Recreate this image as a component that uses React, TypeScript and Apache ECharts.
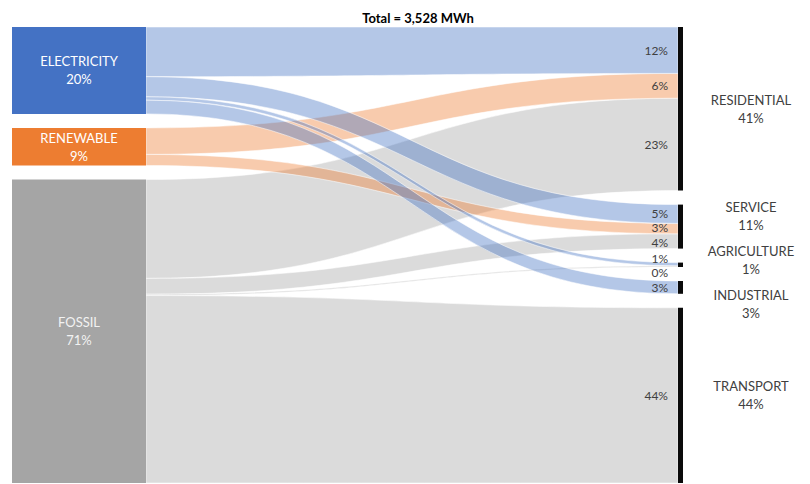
import React, { useEffect, useRef } from 'react';
import * as echarts from 'echarts';

// ---------------- data ----------------
const TOTAL_MWH = 3528;
const SOURCE_NAMES = ['ELECTRICITY', 'RENEWABLE', 'FOSSIL'];
const TARGET_NAMES = ['RESIDENTIAL', 'SERVICE', 'AGRICULTURE', 'INDUSTRIAL', 'TRANSPORT'];
// flows (share of total, %)
const LINK_SOURCE = [0, 0, 0, 0, 1, 1, 2, 2, 2, 2];
const LINK_TARGET = [0, 1, 2, 3, 0, 1, 0, 1, 2, 4];
const LINK_SHARE = [11.6, 4.7, 0.8, 3.2, 6.2, 2.6, 23.1, 3.7, 0.3, 43.8];

// ---------------- styles ----------------
const SOURCE_COLORS = ['#4472c4', '#ed7d31', '#a5a5a5'];
const SOURCE_LABEL_COLORS = ['#ffffff', '#ffffff', '#f2f2f2'];
const TEXT_COLOR = '#404040';
const TARGET_COLOR = '#0a0a0a';
const FONT = 'Lato, "Open Sans", sans-serif';

// layout constants (axis units == pixels of the plot area)
const AXIS_W = 671;
const AXIS_H = 456;
const NODE_GAP = 14;
const SOURCE_W = 134;
const TARGET_W = 5;
const LINK_X0 = SOURCE_W;
const LINK_X1 = AXIS_W - TARGET_W;
const FLOW_LABEL_PAD = 10;
const TARGET_LABEL_DX = 68;
const FLOW_LABEL_MIN_GAP = 14.4;
const TARGET_LABEL_MIN_GAP = 44;

// ---------------- layout derived from data ----------------
const sum = (a: number[]) => a.reduce((s, v) => s + v, 0);
const sourceTotals = SOURCE_NAMES.map((_, s) => sum(LINK_SHARE.filter((_, i) => LINK_SOURCE[i] === s)));
const targetTotals = TARGET_NAMES.map((_, t) => sum(LINK_SHARE.filter((_, i) => LINK_TARGET[i] === t)));

function column(values: number[]) {
  const k = (AXIS_H - (values.length - 1) * NODE_GAP) / sum(values);
  let y = 0;
  const nodes = values.map((v) => {
    const y0 = y;
    const h = v * k;
    y += h + NODE_GAP;
    return { y0, y1: y0 + h };
  });
  return { k, nodes };
}
const srcCol = column(sourceTotals);
const tgtCol = column(targetTotals);

const linkLayout = LINK_SHARE.map(() => ({ sy0: 0, sy1: 0, ty0: 0, ty1: 0 }));
SOURCE_NAMES.forEach((_, s) => {
  let y = srcCol.nodes[s].y0;
  LINK_SHARE.map((_, i) => i)
    .filter((i) => LINK_SOURCE[i] === s)
    .sort((a, b) => LINK_TARGET[a] - LINK_TARGET[b])
    .forEach((i) => {
      linkLayout[i].sy0 = y;
      y += LINK_SHARE[i] * srcCol.k;
      linkLayout[i].sy1 = y;
    });
});
TARGET_NAMES.forEach((_, t) => {
  let y = tgtCol.nodes[t].y0;
  LINK_SHARE.map((_, i) => i)
    .filter((i) => LINK_TARGET[i] === t)
    .sort((a, b) => LINK_SOURCE[a] - LINK_SOURCE[b])
    .forEach((i) => {
      linkLayout[i].ty0 = y;
      y += LINK_SHARE[i] * tgtCol.k;
      linkLayout[i].ty1 = y;
    });
});

// spread label centers so that they keep a minimum distance
function spread(desired: number[], minGap: number): number[] {
  const order = desired.map((_, i) => i).sort((a, b) => desired[a] - desired[b]);
  let clusters = order.map((i) => ({ items: [i], pos: desired[i] }));
  let changed = true;
  while (changed) {
    changed = false;
    for (let c = 0; c < clusters.length - 1; c++) {
      const a = clusters[c];
      const b = clusters[c + 1];
      const aEnd = a.pos + ((a.items.length - 1) / 2) * minGap;
      const bStart = b.pos - ((b.items.length - 1) / 2) * minGap;
      if (bStart - aEnd < minGap - 1e-6) {
        const items = a.items.concat(b.items);
        const pos = sum(items.map((k) => desired[k])) / items.length;
        clusters.splice(c, 2, { items, pos });
        changed = true;
        break;
      }
    }
  }
  const out = desired.slice();
  clusters.forEach((cl) => {
    cl.items.forEach((k, j) => {
      out[k] = cl.pos + (j - (cl.items.length - 1) / 2) * minGap;
    });
  });
  return out;
}
const flowLabelY = spread(linkLayout.map((l) => (l.ty0 + l.ty1) / 2), FLOW_LABEL_MIN_GAP);
const targetLabelY = spread(tgtCol.nodes.map((n) => (n.y0 + n.y1) / 2), TARGET_LABEL_MIN_GAP);

function hexToRgba(hex: string, a: number) {
  const n = parseInt(hex.slice(1), 16);
  return `rgba(${(n >> 16) & 255},${(n >> 8) & 255},${n & 255},${a})`;
}

// render order of links: fossil first, electricity on top
const linkOrder = LINK_SHARE.map((_, i) => i).sort((a, b) => LINK_SOURCE[b] - LINK_SOURCE[a]);

export default function App() {
  const ref = useRef<HTMLDivElement>(null);
  useEffect(() => {
    if (!ref.current) return;
    const chart = echarts.init(ref.current, null, { renderer: 'svg' });
    const option: any = {
      animation: false,
      backgroundColor: '#ffffff',
      title: {
        text: `Total = ${TOTAL_MWH.toLocaleString('en-US')} MWh`,
        left: 413,
        top: 6,
        textAlign: 'center',
        textStyle: { fontFamily: FONT, fontSize: 13, fontWeight: 'bold', color: '#000000' },
      },
      grid: { left: 12, right: 127, top: 27, bottom: 1 },
      xAxis: { type: 'value', min: 0, max: AXIS_W, show: false },
      yAxis: { type: 'value', min: 0, max: AXIS_H, inverse: true, show: false },
      series: [
        {
          type: 'custom',
          name: 'links',
          silent: true,
          data: linkOrder.map((i) => [i]),
          renderItem: (params: any, api: any) => {
            const i = linkOrder[params.dataIndex];
            const L = linkLayout[i];
            const a0 = api.coord([LINK_X0, L.sy0]);
            const a1 = api.coord([LINK_X0, L.sy1]);
            const b0 = api.coord([LINK_X1, L.ty0]);
            const b1 = api.coord([LINK_X1, L.ty1]);
            const xa = a0[0];
            const xb = b0[0];
            const xm = (xa + xb) / 2;
            const d =
              `M${xa},${a0[1]}C${xm},${a0[1]} ${xm},${b0[1]} ${xb},${b0[1]}` +
              `L${xb},${b1[1]}C${xm},${b1[1]} ${xm},${a1[1]} ${xa},${a1[1]}Z`;
            return {
              type: 'path',
              shape: { pathData: d },
              style: {
                fill: hexToRgba(SOURCE_COLORS[LINK_SOURCE[i]], 0.4),
                stroke: 'rgba(255,255,255,0.75)',
                lineWidth: 0.7,
              },
            };
          },
        },
        {
          type: 'custom',
          name: 'sources',
          silent: true,
          data: SOURCE_NAMES.map((_, s) => [s]),
          renderItem: (params: any, api: any) => {
            const s = params.dataIndex;
            const n = srcCol.nodes[s];
            const p0 = api.coord([0, n.y0]);
            const p1 = api.coord([SOURCE_W, n.y1]);
            return {
              type: 'group',
              children: [
                {
                  type: 'rect',
                  shape: { x: p0[0], y: p0[1], width: p1[0] - p0[0], height: p1[1] - p0[1] },
                  style: { fill: SOURCE_COLORS[s] },
                },
                {
                  type: 'text',
                  x: (p0[0] + p1[0]) / 2,
                  y: (p0[1] + p1[1]) / 2,
                  style: {
                    text: `${SOURCE_NAMES[s]}\n${Math.round(sourceTotals[s])}%`,
                    fill: SOURCE_LABEL_COLORS[s],
                    fontFamily: FONT,
                    fontSize: 13,
                    lineHeight: 18,
                    align: 'center',
                    verticalAlign: 'middle',
                  },
                },
              ],
            };
          },
        },
        {
          type: 'custom',
          name: 'targets',
          silent: true,
          data: TARGET_NAMES.map((_, t) => [t]),
          renderItem: (params: any, api: any) => {
            const t = params.dataIndex;
            const n = tgtCol.nodes[t];
            const p0 = api.coord([LINK_X1, n.y0]);
            const p1 = api.coord([AXIS_W, n.y1]);
            const lp = api.coord([AXIS_W, targetLabelY[t]]);
            return {
              type: 'group',
              children: [
                {
                  type: 'rect',
                  shape: { x: p0[0], y: p0[1], width: p1[0] - p0[0], height: Math.max(p1[1] - p0[1], 1) },
                  style: { fill: TARGET_COLOR },
                },
                {
                  type: 'text',
                  x: lp[0] + TARGET_LABEL_DX,
                  y: lp[1],
                  style: {
                    text: `${TARGET_NAMES[t]}\n${Math.round(targetTotals[t])}%`,
                    fill: TEXT_COLOR,
                    fontFamily: FONT,
                    fontSize: 13,
                    lineHeight: 18,
                    align: 'center',
                    verticalAlign: 'middle',
                  },
                },
              ],
            };
          },
        },
        {
          type: 'custom',
          name: 'flowLabels',
          silent: true,
          data: LINK_SHARE.map((_, i) => [i]),
          renderItem: (params: any, api: any) => {
            const i = params.dataIndex;
            const p = api.coord([LINK_X1, flowLabelY[i]]);
            return {
              type: 'text',
              x: p[0] - FLOW_LABEL_PAD,
              y: p[1],
              style: {
                text: `${Math.round(LINK_SHARE[i])}%`,
                fill: TEXT_COLOR,
                fontFamily: FONT,
                fontSize: 12,
                lineHeight: 13,
                align: 'right',
                verticalAlign: 'middle',
              },
            };
          },
        },
      ],
    };
    chart.setOption(option);
    return () => chart.dispose();
  }, []);
  return (
    <div
      ref={ref}
      style={{ position: 'fixed', left: 0, top: 0, width: 810, height: 484, background: '#ffffff' }}
    />
  );
}
